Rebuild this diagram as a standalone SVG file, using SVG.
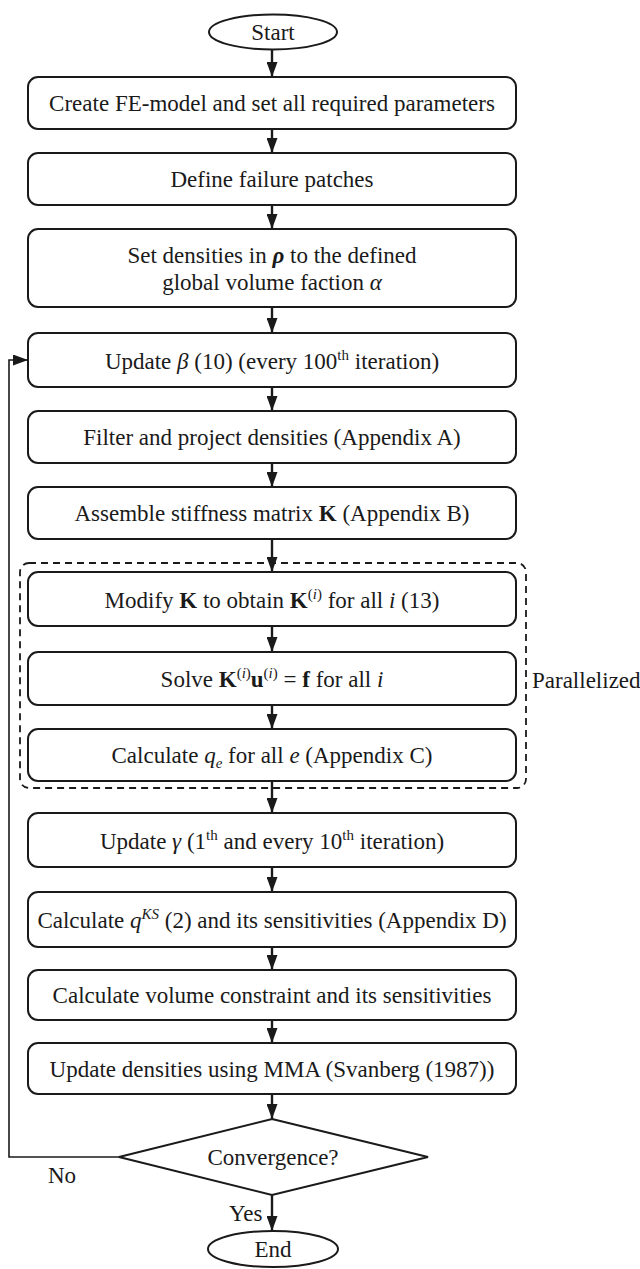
<svg xmlns="http://www.w3.org/2000/svg" width="640" height="1269" viewBox="0 0 640 1269">
<style>
.box{fill:#fff;stroke:#1a1a1a;stroke-width:2}
.t{font-family:"Liberation Serif","Times New Roman",serif;font-size:23px;fill:#1a1a1a;text-anchor:middle}
.l{font-family:"Liberation Serif","Times New Roman",serif;font-size:23px;fill:#1a1a1a}
.c{stroke:#1a1a1a;stroke-width:2.4;fill:none}
.fb{stroke:#1a1a1a;stroke-width:1.6;fill:none}
.i{font-style:italic}
.b{font-weight:bold}
.bi{font-weight:bold;font-style:italic}
.s{font-size:15px}
</style>
<defs>
<marker id="ah" viewBox="0 0 15 11" refX="15" refY="5.5" markerWidth="15" markerHeight="11" markerUnits="userSpaceOnUse" orient="auto">
<path d="M0,0 L15,5.5 L0,11 z" fill="#1a1a1a"/>
</marker>
</defs>
<g id="connectors">
<line class="c" x1="272" y1="50" x2="272" y2="77" marker-end="url(#ah)"/>
<line class="c" x1="272" y1="129" x2="272" y2="153" marker-end="url(#ah)"/>
<line class="c" x1="272" y1="205" x2="272" y2="229" marker-end="url(#ah)"/>
<line class="c" x1="272" y1="307" x2="272" y2="333" marker-end="url(#ah)"/>
<line class="c" x1="272" y1="387" x2="272" y2="411" marker-end="url(#ah)"/>
<line class="c" x1="272" y1="463" x2="272" y2="487" marker-end="url(#ah)"/>
<line class="c" x1="272" y1="539" x2="272" y2="572" marker-end="url(#ah)"/>
<line class="c" x1="272" y1="626" x2="272" y2="652" marker-end="url(#ah)"/>
<line class="c" x1="272" y1="705" x2="272" y2="729" marker-end="url(#ah)"/>
<line class="c" x1="272" y1="781" x2="272" y2="813" marker-end="url(#ah)"/>
<line class="c" x1="272" y1="867" x2="272" y2="892" marker-end="url(#ah)"/>
<line class="c" x1="272" y1="947" x2="272" y2="970" marker-end="url(#ah)"/>
<line class="c" x1="272" y1="1020" x2="272" y2="1043" marker-end="url(#ah)"/>
<line class="c" x1="272" y1="1094" x2="272" y2="1119" marker-end="url(#ah)"/>
<line class="c" x1="272" y1="1195" x2="272" y2="1231" marker-end="url(#ah)"/>
<polyline class="fb" points="119,1157 9,1157 9,360 28,360" marker-end="url(#ah)"/>
<text class="l" x="48" y="1183">No</text>
<text class="l" x="229" y="1221">Yes</text>
</g>
<g id="parallel-group">
<rect x="20" y="563" width="506" height="225" rx="9" fill="none" stroke="#1a1a1a" stroke-width="1.8" stroke-dasharray="7,5"/>
<text class="l" x="532" y="688">Parallelized</text>
</g>
<g id="start">
<ellipse cx="273" cy="32" rx="64" ry="17.5" class="box"/>
<text class="t" x="273" y="40">Start</text>
</g>
<g id="n1">
<rect class="box" x="28" y="77" width="488" height="52" rx="10"/>
<text class="t" x="272" y="111">Create FE-model and set all required parameters</text>
</g>
<g id="n2">
<rect class="box" x="28" y="153" width="488" height="52" rx="10"/>
<text class="t" x="272" y="187">Define failure patches</text>
</g>
<g id="n3">
<rect class="box" x="28" y="229" width="488" height="78" rx="10"/>
<text class="t" x="272" y="263">Set densities in <tspan class="bi">ρ</tspan> to the defined</text>
<text class="t" x="272" y="290">global volume faction <tspan class="i">α</tspan></text>
</g>
<g id="n4">
<rect class="box" x="28" y="333" width="488" height="54" rx="10"/>
<text class="t" x="272" y="369">Update <tspan class="i">β</tspan> (10) (every 100<tspan class="s" dy="-9">th</tspan><tspan dy="9"> iteration)</tspan></text>
</g>
<g id="n5">
<rect class="box" x="28" y="411" width="488" height="52" rx="10"/>
<text class="t" x="272" y="445">Filter and project densities (Appendix A)</text>
</g>
<g id="n6">
<rect class="box" x="28" y="487" width="488" height="52" rx="10"/>
<text class="t" x="272" y="521">Assemble stiffness matrix <tspan class="b">K</tspan> (Appendix B)</text>
</g>
<g id="n7">
<rect class="box" x="28" y="572" width="488" height="54" rx="10"/>
<text class="t" x="272" y="608">Modify <tspan class="b">K</tspan> to obtain <tspan class="b">K</tspan><tspan class="s" dy="-9">(<tspan class="i">i</tspan>)</tspan><tspan dy="9"> for all </tspan><tspan class="i">i</tspan> (13)</text>
</g>
<g id="n8">
<rect class="box" x="28" y="652" width="488" height="53" rx="10"/>
<text class="t" x="272" y="687">Solve <tspan class="b">K</tspan><tspan class="s" dy="-9">(<tspan class="i">i</tspan>)</tspan><tspan class="b" dy="9">u</tspan><tspan class="s" dy="-9">(<tspan class="i">i</tspan>)</tspan><tspan dy="9"> = </tspan><tspan class="b">f</tspan> for all <tspan class="i">i</tspan></text>
</g>
<g id="n9">
<rect class="box" x="28" y="729" width="488" height="52" rx="10"/>
<text class="t" x="272" y="763">Calculate <tspan class="i">q</tspan><tspan class="s i" dy="5">e</tspan><tspan dy="-5"> for all </tspan><tspan class="i">e</tspan> (Appendix C)</text>
</g>
<g id="n10">
<rect class="box" x="28" y="813" width="488" height="54" rx="10"/>
<text class="t" x="272" y="849">Update <tspan class="i">γ</tspan> (1<tspan class="s" dy="-9">th</tspan><tspan dy="9"> and every 10</tspan><tspan class="s" dy="-9">th</tspan><tspan dy="9"> iteration)</tspan></text>
</g>
<g id="n11">
<rect class="box" x="28" y="892" width="488" height="55" rx="10"/>
<text class="t" x="272" y="928">Calculate <tspan class="i">q</tspan><tspan class="s i" dy="-9">KS</tspan><tspan dy="9"> (2) and its sensitivities (Appendix D)</tspan></text>
</g>
<g id="n12">
<rect class="box" x="28" y="970" width="488" height="50" rx="10"/>
<text class="t" x="272" y="1003">Calculate volume constraint and its sensitivities</text>
</g>
<g id="n13">
<rect class="box" x="28" y="1043" width="488" height="51" rx="10"/>
<text class="t" x="272" y="1077">Update densities using MMA (Svanberg (1987))</text>
</g>
<g id="decision">
<polygon class="box" points="272,1119 428,1157 272,1195 119,1157"/>
<text class="t" x="273" y="1165">Convergence?</text>
</g>
<g id="end">
<ellipse cx="273" cy="1249" rx="65" ry="18" class="box"/>
<text class="t" x="273" y="1257">End</text>
</g>
</svg>
